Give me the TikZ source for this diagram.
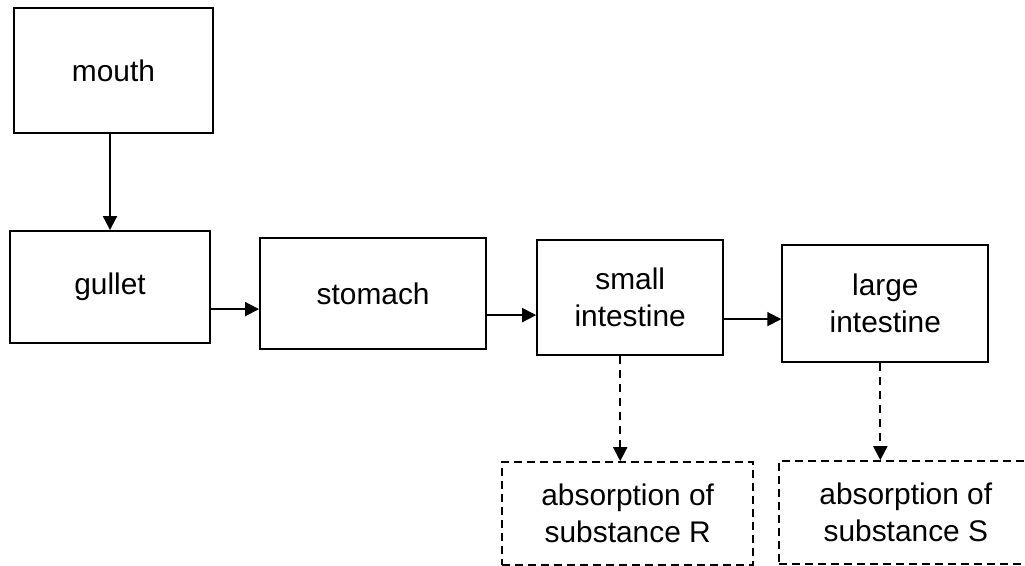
\documentclass[tikz,border=0pt]{standalone}
\usepackage{fontspec}
\setmainfont{Liberation Sans}
\usetikzlibrary{positioning,arrows.meta}
\tikzset{
  organ/.style={rectangle, minimum width=4cm, minimum height=2.24cm, text centered, align=center, draw=black, line width=1.2pt, font=\fontsize{17}{21}\selectfont},
  absn/.style={organ, dash pattern=on 0.16cm off 0.1cm},
  flow/.style={-{Triangle[length=0.28cm,width=0.28cm]}, line width=1.1pt},
  dflow/.style={flow, dash pattern=on 0.16cm off 0.12cm}
}
\begin{document}
\begin{tikzpicture}
	\useasboundingbox (0,0) rectangle (20.5,-11.32);
	\node[organ, minimum width=3.98cm, minimum height=2.5cm] (mouth) at (2.27,-1.41) {mouth};
	\node[organ, below=1.92cm of mouth, xshift=-0.07cm] (gullet) {gullet};
	\node[organ, minimum width=4.52cm, minimum height=2.22cm, right=0.96cm of gullet, yshift=-0.13cm] (stomach) {stomach};
	\node[organ, minimum width=3.72cm, minimum height=2.3cm, right=0.98cm of stomach, yshift=-0.08cm] (small) {small\\intestine};
	\node[organ, minimum width=4.12cm, minimum height=2.34cm, right=1.14cm of small, yshift=-0.12cm] (large) {large\\intestine};
	\node[absn, minimum width=5.02cm, minimum height=2.06cm, below=2.1cm of small, xshift=-0.05cm] (absR) {absorption of\\substance R};
	\node[absn, minimum width=5.06cm, minimum height=2.06cm, below=1.94cm of large, xshift=0.41cm] (absS) {absorption of\\substance S};

	\draw[flow] (gullet.north |- mouth.south) -- (gullet.north);
	\draw[flow] ([yshift=-0.44cm]gullet.east) -- ([yshift=-0.44cm]gullet.east -| stomach.west);
	\draw[flow] ([yshift=-0.43cm]stomach.east) -- ([yshift=-0.43cm]stomach.east -| small.west);
	\draw[flow] ([yshift=-0.43cm]small.east) -- ([yshift=-0.43cm]small.east -| large.west);
	\draw[dflow] ([xshift=-0.2cm]small.south) -- ([xshift=-0.2cm]small.south |- absR.north);
	\draw[dflow] ([xshift=-0.1cm]large.south) -- ([xshift=-0.1cm]large.south |- absS.north);
\end{tikzpicture}
\end{document}
